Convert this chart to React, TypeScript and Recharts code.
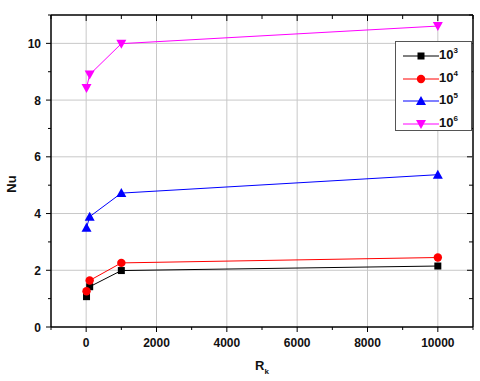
import { Line, LineChart, ReferenceLine, XAxis, YAxis } from "recharts";

// Rk values (x) and Nu for each Rayleigh number
const RK = [10, 100, 1000, 10000];
const NU_1E3 = [1.07, 1.42, 1.99, 2.15];
const NU_1E4 = [1.26, 1.64, 2.26, 2.45];
const NU_1E5 = [3.5, 3.89, 4.72, 5.37];
const NU_1E6 = [8.43, 8.9, 9.99, 10.61];

const X_DOMAIN = [-1000, 11000];
const Y_DOMAIN = [0, 11];
const X_MAJOR = [0, 2000, 4000, 6000, 8000, 10000];
const X_TICKS = [-1000, 0, 1000, 2000, 3000, 4000, 5000, 6000, 7000, 8000, 9000, 10000, 11000];
const Y_MAJOR = [0, 2, 4, 6, 8, 10];
const Y_TICKS = [0, 1, 2, 3, 4, 5, 6, 7, 8, 9, 10, 11];

const rows = RK.map((rk, i) => ({
  rk,
  ra3: NU_1E3[i],
  ra4: NU_1E4[i],
  ra5: NU_1E5[i],
  ra6: NU_1E6[i],
}));

const FONT = "'Liberation Sans', Arial, sans-serif";
const GRID = "#c8c8c8";
const AXIS = { stroke: "#000", strokeWidth: 1.5 };

type DotProps = { cx?: number; cy?: number };

const Square = ({ cx = 0, cy = 0 }: DotProps) => (
  <rect x={cx - 3.5} y={cy - 3.5} width={7} height={7} fill="#000" />
);
const Circle = ({ cx = 0, cy = 0 }: DotProps) => <circle cx={cx} cy={cy} r={4.2} fill="#ff0000" />;
const TriUp = ({ cx = 0, cy = 0 }: DotProps) => (
  <path d={`M${cx},${cy - 5} L${cx + 5},${cy + 4} L${cx - 5},${cy + 4} Z`} fill="#0000ff" />
);
const TriDown = ({ cx = 0, cy = 0 }: DotProps) => (
  <path d={`M${cx},${cy + 5} L${cx + 5},${cy - 4} L${cx - 5},${cy - 4} Z`} fill="#ff00ff" />
);

const SERIES = [
  { key: "ra3", exp: "3", color: "#000000", Dot: Square },
  { key: "ra4", exp: "4", color: "#ff0000", Dot: Circle },
  { key: "ra5", exp: "5", color: "#0000ff", Dot: TriUp },
  { key: "ra6", exp: "6", color: "#ff00ff", Dot: TriDown },
];

// tick marks drawn by hand so major/minor can have different lengths;
// tickSize/tickMargin are 0 so (x, y) is the point on the axis line
const BottomTick = ({ x, y, payload }: any) => {
  const major = X_MAJOR.includes(payload.value);
  return (
    <g>
      <line x1={x} y1={y} x2={x} y2={y + (major ? 5 : 3)} stroke="#000" />
      {major && (
        <text x={x} y={y + 20} textAnchor="middle" fontFamily={FONT} fontSize={12} fontWeight={700} fill="#111">
          {payload.value}
        </text>
      )}
    </g>
  );
};
const LeftTick = ({ x, y, payload }: any) => {
  const major = Y_MAJOR.includes(payload.value);
  return (
    <g>
      <line x1={x} y1={y} x2={x - (major ? 5 : 3)} y2={y} stroke="#000" />
      {major && (
        <text x={x - 10} y={y + 4.5} textAnchor="end" fontFamily={FONT} fontSize={12} fontWeight={700} fill="#111">
          {payload.value}
        </text>
      )}
    </g>
  );
};

// one reference line per x value: grid line (major), inward top tick,
// and the right frame edge at the domain max
const xShape = (v: number) => (p: any) => {
  const top = Math.min(p.y1, p.y2);
  const bottom = Math.max(p.y1, p.y2);
  const major = X_MAJOR.includes(v);
  return (
    <g>
      {major && <line x1={p.x1} y1={top} x2={p.x1} y2={bottom} stroke={GRID} strokeWidth={1} />}
      {v === X_DOMAIN[1] && <line x1={p.x1} y1={top} x2={p.x1} y2={bottom} stroke="#000" strokeWidth={1.5} />}
      <line x1={p.x1} y1={top} x2={p.x1} y2={top + (major ? 6 : 4)} stroke="#000" strokeWidth={1} />
    </g>
  );
};
// one reference line per y value: grid line (major), inward right tick,
// and the top frame edge at the domain max
const yShape = (v: number) => (p: any) => {
  const left = Math.min(p.x1, p.x2);
  const right = Math.max(p.x1, p.x2);
  const major = Y_MAJOR.includes(v);
  return (
    <g>
      {major && <line x1={left} y1={p.y1} x2={right} y2={p.y1} stroke={GRID} strokeWidth={1} />}
      {v === Y_DOMAIN[1] && <line x1={left} y1={p.y1} x2={right} y2={p.y1} stroke="#000" strokeWidth={1.5} />}
      <line x1={right - (major ? 6 : 4)} y1={p.y1} x2={right} y2={p.y1} stroke="#000" strokeWidth={1} />
    </g>
  );
};

function LegendBox() {
  return (
    <div
      style={{
        position: "absolute",
        left: 395,
        top: 41,
        width: 77,
        height: 90,
        border: "1px solid #555",
        background: "#fff",
        boxSizing: "border-box",
        paddingTop: 3,
        fontFamily: FONT,
      }}
    >
      {SERIES.map((s) => (
        <div key={s.key} style={{ display: "flex", alignItems: "center", height: 22.6 }}>
          <svg width={43} height={14} style={{ flex: "none" }}>
            <line x1={7} y1={7} x2={43} y2={7} stroke={s.color} strokeWidth={1} />
            <s.Dot cx={25} cy={7} />
          </svg>
          <span style={{ fontSize: 13, fontWeight: 700, color: "#111", lineHeight: "14px", whiteSpace: "nowrap" }}>
            10<span style={{ fontSize: 8, position: "relative", top: -6 }}>{s.exp}</span>
          </span>
        </div>
      ))}
    </div>
  );
}

export default function App() {
  return (
    <div style={{ position: "absolute", left: 0, top: 0, width: 480, height: 381, background: "#fff" }}>
      <LineChart width={480} height={381} data={rows} margin={{ top: 15, right: 7, left: 0, bottom: 0 }}>
        <XAxis
          dataKey="rk"
          type="number"
          domain={X_DOMAIN}
          ticks={X_TICKS}
          interval={0}
          height={54}
          tickSize={0}
          tickMargin={0}
          tickLine={false}
          tick={<BottomTick />}
          axisLine={AXIS}
          label={{
            content: ({ viewBox }: any) => (
              <text x={viewBox.x + viewBox.width / 2} y={370} textAnchor="middle"
                fontFamily={FONT} fontSize={13} fontWeight={700} fill="#111">
                R<tspan fontSize={8} dy={4}>k</tspan>
              </text>
            ),
          }}
        />
        <YAxis
          type="number"
          domain={Y_DOMAIN}
          ticks={Y_TICKS}
          interval={0}
          width={51}
          tickSize={0}
          tickMargin={0}
          tickLine={false}
          tick={<LeftTick />}
          axisLine={AXIS}
          label={{
            content: ({ viewBox }: any) => {
              const x = 16;
              const y = viewBox.y + viewBox.height / 2 + 13;
              return (
                <text x={x} y={y} transform={`rotate(-90 ${x} ${y})`} textAnchor="middle"
                  fontFamily={FONT} fontSize={13} fontWeight={700} fill="#111">
                  Nu
                </text>
              );
            },
          }}
        />

        {X_TICKS.map((v) => (
          <ReferenceLine key={`x${v}`} x={v} stroke="#000" shape={xShape(v)} />
        ))}
        {Y_TICKS.filter((v) => v > 0).map((v) => (
          <ReferenceLine key={`y${v}`} y={v} stroke="#000" shape={yShape(v)} />
        ))}

        {SERIES.map((s) => (
          <Line
            key={s.key}
            dataKey={s.key}
            type="linear"
            stroke={s.color}
            strokeWidth={1}
            dot={(p: any) => <s.Dot key={`${s.key}-${p.index}`} cx={p.cx} cy={p.cy} />}
            activeDot={false}
            isAnimationActive={false}
          />
        ))}
      </LineChart>
      <LegendBox />
    </div>
  );
}
